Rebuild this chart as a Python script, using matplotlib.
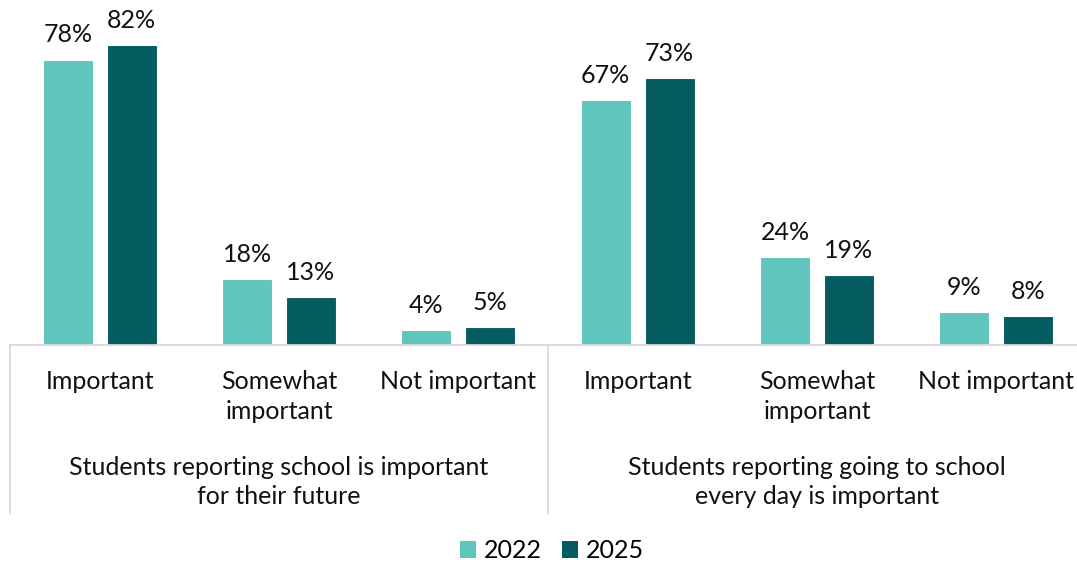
import matplotlib
matplotlib.use("Agg")
import matplotlib.pyplot as plt
import matplotlib.transforms as mtransforms
from matplotlib.patches import Patch
import numpy as np

plt.rcParams['font.family'] = ['Lato', 'DejaVu Sans']

categories = ["Important", "Somewhat\nimportant", "Not important",
              "Important", "Somewhat\nimportant", "Not important"]
groups = ["Students reporting school is important\nfor their future",
          "Students reporting going to school\nevery day is important"]
years = ["2022", "2025"]
values_2022 = [78, 18, 4, 67, 24, 9]
values_2025 = [82, 13, 5, 73, 19, 8]
colors = ["#5FC5BD", "#045C60"]

W, H = 1077, 564
fig = plt.figure(figsize=(W / 100, H / 100), dpi=100)
base_px = 345
top_px = 15.6
ax = fig.add_axes([10 / W, 1 - base_px / H, (W - 10) / W, (base_px - top_px) / H])

x = np.arange(len(categories))
width = 0.279
offset = 0.178
fs = 18
ls = 1.36

for vals, col, dx in [(values_2022, colors[0], -offset), (values_2025, colors[1], offset)]:
    bars = ax.bar(x + dx, vals, width, color=col, edgecolor="white", linewidth=0.8)
    for b, v in zip(bars, vals):
        ax.annotate(f"{v}%", (b.get_x() + b.get_width() / 2, v),
                    xytext=(0, 9.5), textcoords="offset points",
                    ha="center", va="bottom", fontsize=fs, color="#111111")

ax.set_xlim(-0.5, 5.45)
ax.set_ylim(0, 90)
for s in ["top", "right", "left"]:
    ax.spines[s].set_visible(False)
ax.spines["bottom"].set_color("#D9D9D9")
ax.spines["bottom"].set_linewidth(1.3)
ax.set_yticks([])
ax.set_xticks(x)
ax.set_xticklabels(categories, fontsize=fs, color="#111111", linespacing=ls)
ax.tick_params(axis="x", length=0, pad=18)

trans = mtransforms.blended_transform_factory(ax.transData, ax.transAxes)
sep_bottom = -(513 - base_px) / (base_px - top_px)
for xs in [-0.5, 2.5]:
    ax.plot([xs, xs], [0, sep_bottom], transform=trans, color="#D9D9D9",
            linewidth=1.3, clip_on=False)

for gi, g in enumerate(groups):
    ax.text(1 + 3 * gi, -(482 - base_px) / (base_px - top_px), g, transform=trans,
            ha="center", va="center", fontsize=fs, color="#111111", linespacing=ls)

handles = [Patch(facecolor=c, edgecolor="none") for c in colors]
fig.legend(handles, years, loc="center", bbox_to_anchor=(552 / W, 1 - 551 / H),
           ncol=2, frameon=False, fontsize=fs, handlelength=0.65, handleheight=0.65,
           handletextpad=0.3, columnspacing=0.8)

fig.savefig("out.png", dpi=100)
